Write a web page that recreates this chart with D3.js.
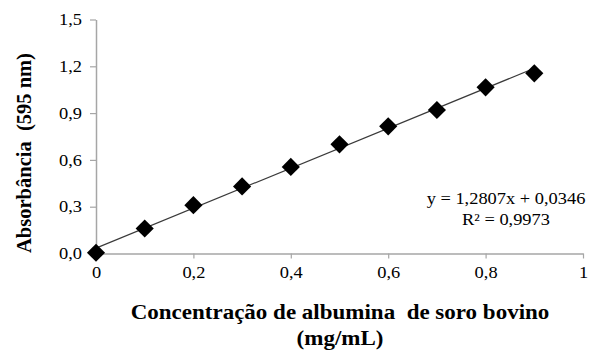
<!DOCTYPE html>
<html>
<head>
<meta charset="utf-8">
<script src="https://cdn.jsdelivr.net/npm/d3@7"></script>
<style>
  html, body { margin: 0; padding: 0; background: #fff; }
  svg { display: block; }
  text { font-family: "Liberation Serif", "Times New Roman", serif; white-space: pre; }
</style>
</head>
<body>
<svg id="chart" width="594" height="353"></svg>
<script>
// BSA standard curve: concentration (mg/mL) vs absorbance at 595 nm
const concentrations = [0, 0.1, 0.2, 0.3, 0.4, 0.5, 0.6, 0.7, 0.8, 0.9];
const absorbances = [0.005, 0.16, 0.31, 0.43, 0.555, 0.70, 0.815, 0.92, 1.065, 1.155];
const xTicks = [0, 0.2, 0.4, 0.6, 0.8, 1];
const yTicks = [0, 0.3, 0.6, 0.9, 1.2, 1.5];
const slope = 1.2807;
const intercept = 0.0346;
const equationLines = ["y = 1,2807x + 0,0346", "R² = 0,9973"];
const yTitle = "Absorbância  (595 nm)";
const xTitleLines = ["Concentração de albumina  de soro bovino", "(mg/mL)"];

const svg = d3.select("#chart");
const stretch = 1.15; // horizontal widening of the serif lettering

const x = d3.scaleLinear().domain([0, 1]).range([96, 583]);
const y = d3.scaleLinear().domain([0, 1.5]).range([253.5, 19.5]);

const fmtX = d => d === 0 ? "0" : d === 1 ? "1" : d3.format(".1f")(d).replace(".", ",");
const fmtY = d => d3.format(".1f")(d).replace(".", ",");

// X axis
const gx = svg.append("g")
  .attr("transform", `translate(0,${y(0)})`)
  .call(d3.axisBottom(x).tickValues(xTicks).tickFormat(fmtX).tickSizeInner(5).tickSizeOuter(0).tickPadding(8));

// Y axis
const gy = svg.append("g")
  .attr("transform", `translate(${x(0)},0)`)
  .call(d3.axisLeft(y).tickValues(yTicks).tickFormat(fmtY).tickSizeInner(6).tickSizeOuter(0).tickPadding(6));

[gx, gy].forEach(g => {
  g.select(".domain").attr("stroke", "#a6a6a6").attr("stroke-width", 1.5);
  g.selectAll(".tick line").attr("stroke", "#a6a6a6").attr("stroke-width", 1.2);
  g.selectAll(".tick text")
    .attr("fill", "#000")
    .attr("font-family", null)
    .style("font-size", "16px");
});
gx.selectAll(".tick text").attr("transform", `scale(${stretch},1)`);
gy.selectAll(".tick text").attr("transform", `scale(${stretch},1)`).attr("x", -14 / stretch);

// Linear trendline over the data range
const x0 = d3.min(concentrations), x1 = d3.max(concentrations);
svg.append("line")
  .attr("x1", x(x0)).attr("y1", y(slope * x0 + intercept))
  .attr("x2", x(x1)).attr("y2", y(slope * x1 + intercept))
  .attr("stroke", "#3a3a3a")
  .attr("stroke-width", 1.2);

// Diamond markers
const diamond = d3.symbol().type(d3.symbolSquare).size(165);
svg.append("g").selectAll("path")
  .data(concentrations.map((c, i) => [c, absorbances[i]]))
  .join("path")
  .attr("d", diamond)
  .attr("transform", d => `translate(${x(d[0])},${y(d[1])}) rotate(45)`)
  .attr("fill", "#000");

// Regression equation
const eq = svg.append("g")
  .attr("transform", `translate(506,0) scale(${stretch},1)`)
  .append("text")
  .attr("text-anchor", "middle")
  .style("font-size", "16px")
  .attr("fill", "#000");
equationLines.forEach((t, i) => {
  eq.append("tspan").attr("x", 0).attr("y", 204 + i * 21).text(t);
});

// Axis titles
svg.append("text")
  .attr("transform", `translate(31,153) rotate(-90)`)
  .attr("text-anchor", "middle")
  .style("font-size", "20.5px")
  .style("font-weight", "bold")
  .attr("fill", "#000")
  .text(yTitle);

const xt = svg.append("g")
  .attr("transform", `translate(340,0) scale(${stretch},1)`)
  .append("text")
  .attr("text-anchor", "middle")
  .style("font-size", "20px")
  .style("font-weight", "bold")
  .attr("fill", "#000");
xTitleLines.forEach((t, i) => {
  xt.append("tspan").attr("x", 0).attr("y", 319 + i * 26).text(t);
});
</script>
</body>
</html>
